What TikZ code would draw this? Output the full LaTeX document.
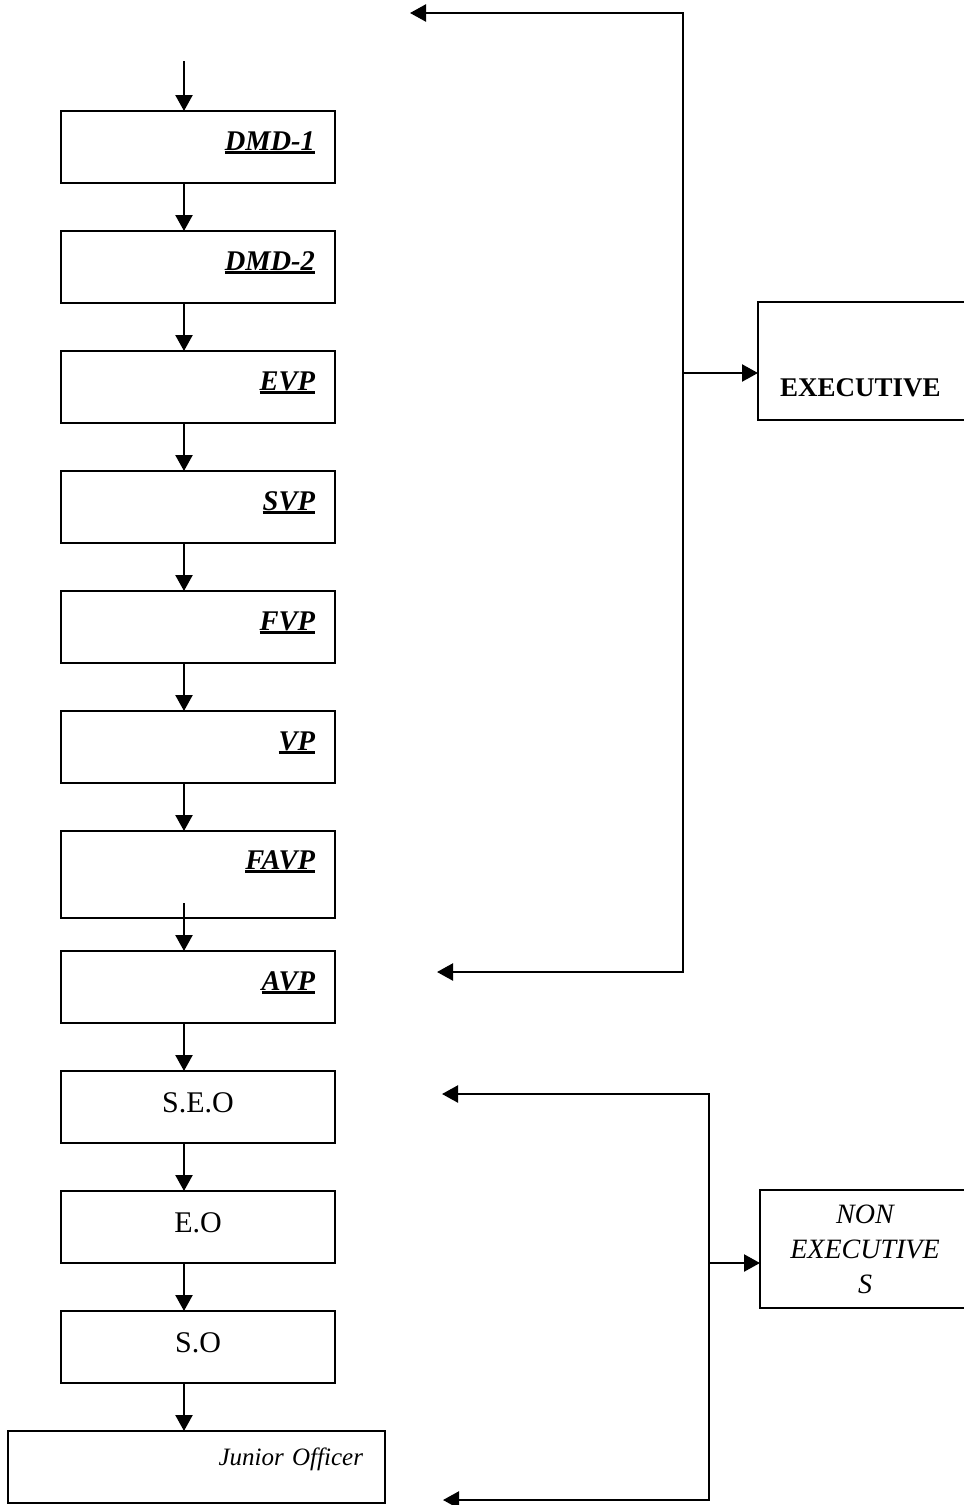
\documentclass[tikz,border=0pt]{standalone}
\usepackage{fontspec}
\setmainfont{Liberation Serif}
\usetikzlibrary{arrows.meta}
\newcommand{\rankul}[1]{\setbox0=\hbox{#1}\rlap{\rule[-3.5pt]{\wd0}{2.4pt}}\box0}

\begin{document}
\begin{tikzpicture}[x=1pt, y=-1pt, line width=2.3pt,
  >={Triangle[length=16pt,width=17pt]},
  rank/.style={draw, anchor=north west, outer sep=0pt, inner xsep=20pt, inner ysep=0pt,
    minimum width=274pt, minimum height=72pt, text width=234pt, align=right,
    text height=39pt, text depth=33pt, font=\fontsize{28.5}{34}\selectfont\bfseries\itshape},
  grade/.style={rank, align=center, text height=41pt, text depth=31pt,
    font=\fontsize{30}{36}\selectfont},
  group/.style={draw, anchor=north west, outer sep=0pt, inner sep=0pt,
    minimum width=210pt, minimum height=118pt}]
\clip (0,0) rectangle (964,1505);
\node[rank] (dmdone) at (61,111) {\rankul{DMD-1}};
\node[rank] (dmdtwo) at (61,231) {\rankul{DMD-2}};
\node[rank] (evp) at (61,351) {\rankul{EVP}};
\node[rank] (svp) at (61,471) {\rankul{SVP}};
\node[rank] (fvp) at (61,591) {\rankul{FVP}};
\node[rank] (vp) at (61,711) {\rankul{VP}};
\node[rank, minimum height=87pt, text height=38pt, text depth=49pt] (favp) at (61,831) {\rankul{FAVP}};
\node[rank] (avp) at (61,951) {\rankul{AVP}};
\node[grade] (seo) at (61,1071) {S.E.O};
\node[grade] (eo) at (61,1191) {E.O};
\node[grade] (so) at (61,1311) {S.O};
\node[rank, minimum width=377pt, inner xsep=22pt, text width=333pt, text height=34pt, text depth=38pt,
  font=\fontsize{25}{30}\selectfont\itshape] (junior) at (8,1431) {Junior Officer};
\node[group, inner xsep=22pt, text width=168pt, align=left, text height=94pt, text depth=24pt,
  font=\fontsize{27}{32}\selectfont\bfseries] (exec) at (758,302) {EXECUTIVE};
\node[group, align=center, text width=210pt,
  font=\fontsize{28}{35}\selectfont\itshape] (nonexec) at (760,1190) {NON\\EXECUTIVE\\S};

\coordinate (spine) at (184,0);
\coordinate (entry) at (184,61);
\draw[->] (entry) -- (dmdone.north -| spine);
\foreach \a/\b in {dmdone/dmdtwo, dmdtwo/evp, evp/svp, svp/fvp, fvp/vp, vp/favp, avp/seo, seo/eo, eo/so, so/junior}
    \draw[->] (\a.south -| spine) -- (\b.north -| spine);
\path (favp.south -| spine) ++(0,-15) coordinate (favpout);
\draw[->] (favpout) -- (avp.north -| spine);

\coordinate (exectop) at (683,13);
\coordinate (execbot) at (683,972);
\coordinate (execmid) at (683,373);
\coordinate (exectoptip) at (410,13);
\coordinate (execbottip) at (437,972);
\draw[<->] (exectoptip) -- (exectop) -- (execbot) -- (execbottip);
\draw[->] (execmid) -- (exec.west |- execmid);

\coordinate (nontop) at (709,1094);
\coordinate (nonbot) at (709,1500);
\coordinate (nonmid) at (709,1263);
\coordinate (nontoptip) at (442,1094);
\coordinate (nonbottip) at (443,1500);
\draw[<->] (nontoptip) -- (nontop) -- (nonbot) -- (nonbottip);
\draw[->] (nonmid) -- (nonexec.west |- nonmid);
\end{tikzpicture}
\end{document}
